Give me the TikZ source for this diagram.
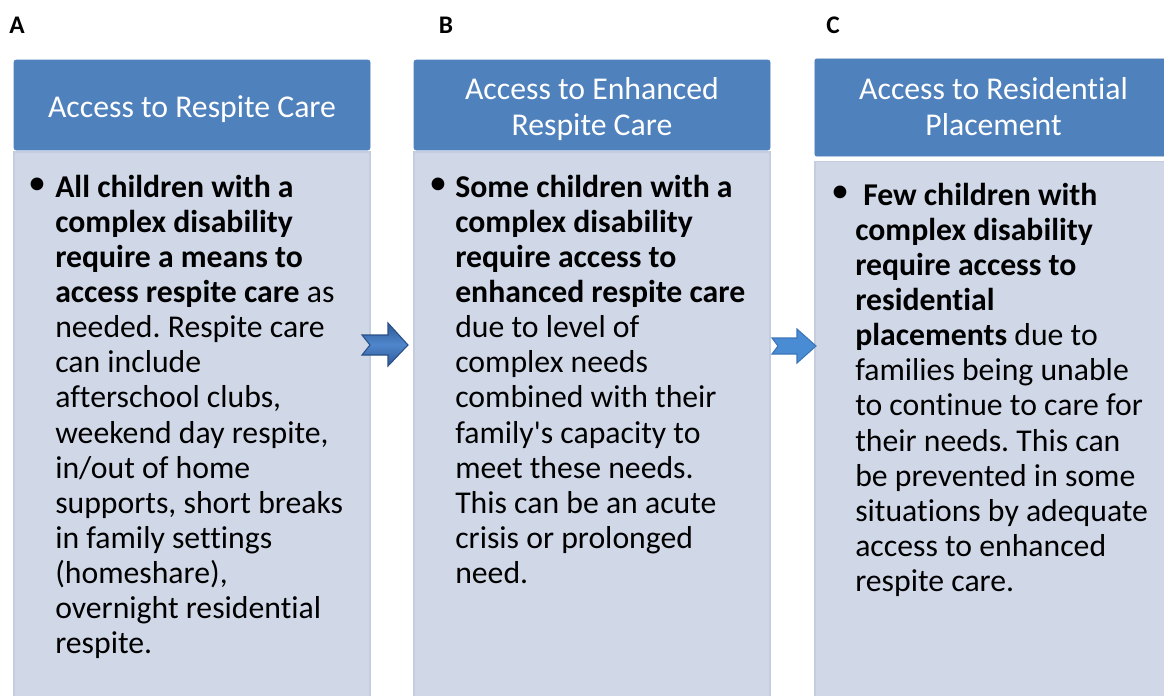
\documentclass[tikz,border=0pt]{standalone}
\usepackage{fontspec}
\setmainfont{Carlito}[Ligatures=NoCommon]
\usepackage{xcolor}
\usepackage{tikz}
\usetikzlibrary{positioning}
\frenchspacing

\definecolor{headblue}{HTML}{4F81BD}
\definecolor{bodyfill}{HTML}{D0D8E8}
\definecolor{bodyedge}{HTML}{C4CDE0}
\definecolor{arrowdark}{HTML}{2F5A96}
\definecolor{arrowlight}{HTML}{4F86CC}
\definecolor{arrowedge}{HTML}{294F86}
\definecolor{arrowblue}{HTML}{4A8CD4}
\definecolor{arrowblueedge}{HTML}{3C74B8}

\tikzstyle{header} = [rectangle, fill=headblue, draw=headblue, rounded corners=1.5pt]
\tikzstyle{headtext} = [text=white, align=center, inner sep=0pt, font=\fontsize{23.8}{27}\selectfont]
\tikzstyle{panel} = [rectangle, fill=bodyfill, draw=bodyedge, line width=1.2pt]
\tikzstyle{bodytext} = [anchor=north west, inner sep=0pt, align=left, font=\fontsize{23.8}{26.3}\selectfont]
\tikzstyle{bullet} = [anchor=center, inner sep=0pt, font=\fontsize{27}{27}\selectfont]
\tikzstyle{letter} = [inner sep=0pt, font=\fontsize{19}{22}\selectfont\bfseries]

\begin{document}
\begin{tikzpicture}[x=0.75pt, y=-0.75pt]
			\useasboundingbox (0,0) rectangle (1164,696);
			
			% Column letters
			\node[letter] (labA) at (17,25) {A};
			\node[letter] (labB) at (446,25) {B};
			\node[letter] (labC) at (833,25) {C};
			
			% Column panels
			\node[panel, minimum width=267pt, minimum height=414pt] (bodyA) at (192,428) {};
			\node[panel, minimum width=267pt, minimum height=414pt] (bodyB) at (592,428) {};
			\node[panel, minimum width=268pt, minimum height=407pt] (bodyC) at (993.5,433) {};
			
			% Column headers
			\node[header, minimum width=267pt, minimum height=67.5pt] (headA) at (192,105) {};
			\node[header, minimum width=267pt, minimum height=67.5pt] (headB) at (592,105) {};
			\node[header, minimum width=268pt, minimum height=73pt] (headC) at (993.5,107.5) {};
			\node[headtext] (titleA) at ([yshift=-3pt]headA.center) {Access to Respite Care};
			\node[headtext] (titleB) at ([yshift=-3pt]headB.center) {Access to Enhanced\\Respite Care};
			\node[headtext] (titleC) at ([yshift=1pt]headC.center) {Access to Residential\\Placement};
			
			% Panel texts
			\node[bullet] (bulA) at (37,186) {•};
			\node[bodytext] (txtA) at (55,175) {\textbf{All children with a}\\
				\textbf{complex disability}\\
				\textbf{require a means to}\\
				\textbf{access respite care} as\\
				needed. Respite care\\
				can include\\
				afterschool clubs,\\
				weekend day respite,\\
				in/out of home\\
				supports, short breaks\\
				in family settings\\
				(homeshare),\\
				overnight residential\\
				respite.};
			
			\node[bullet] (bulB) at (438,186) {•};
			\node[bodytext] (txtB) at (455,175) {\textbf{Some children with a}\\
				\textbf{complex disability}\\
				\textbf{require access to}\\
				\textbf{enhanced respite care}\\
				due to level of\\
				complex needs\\
				combined with their\\
				family\textquotesingle s capacity to\\
				meet these needs.\\
				This can be an acute\\
				crisis or prolonged\\
				need.};
			
			\node[bullet] (bulC) at (840,194) {•};
			\node[bodytext] (txtC) at (855,183) {\hspace{6pt}\textbf{Few children with}\\
				\textbf{complex disability}\\
				\textbf{require access to}\\
				\textbf{residential}\\
				\textbf{placements} due to\\
				families being unable\\
				to continue to care for\\
				their needs. This can\\
				be prevented in some\\
				situations by adequate\\
				access to enhanced\\
				respite care.};
			
			% Block arrows between panels
			\draw[arrowedge, line width=0.8pt, top color=arrowdark, bottom color=arrowdark, middle color=arrowlight]
				(362,335) -- (388,335) -- (388,323) -- (408,345) -- (388,366) -- (388,355) -- (362,355) -- (370,345) -- cycle;
			\draw[arrowblueedge, line width=0.8pt, fill=arrowblue]
				(772,338) -- (797,338) -- (797,329) -- (816,346) -- (797,363) -- (797,354) -- (772,354) -- (778,346) -- cycle;
			
		\end{tikzpicture}
\end{document}
